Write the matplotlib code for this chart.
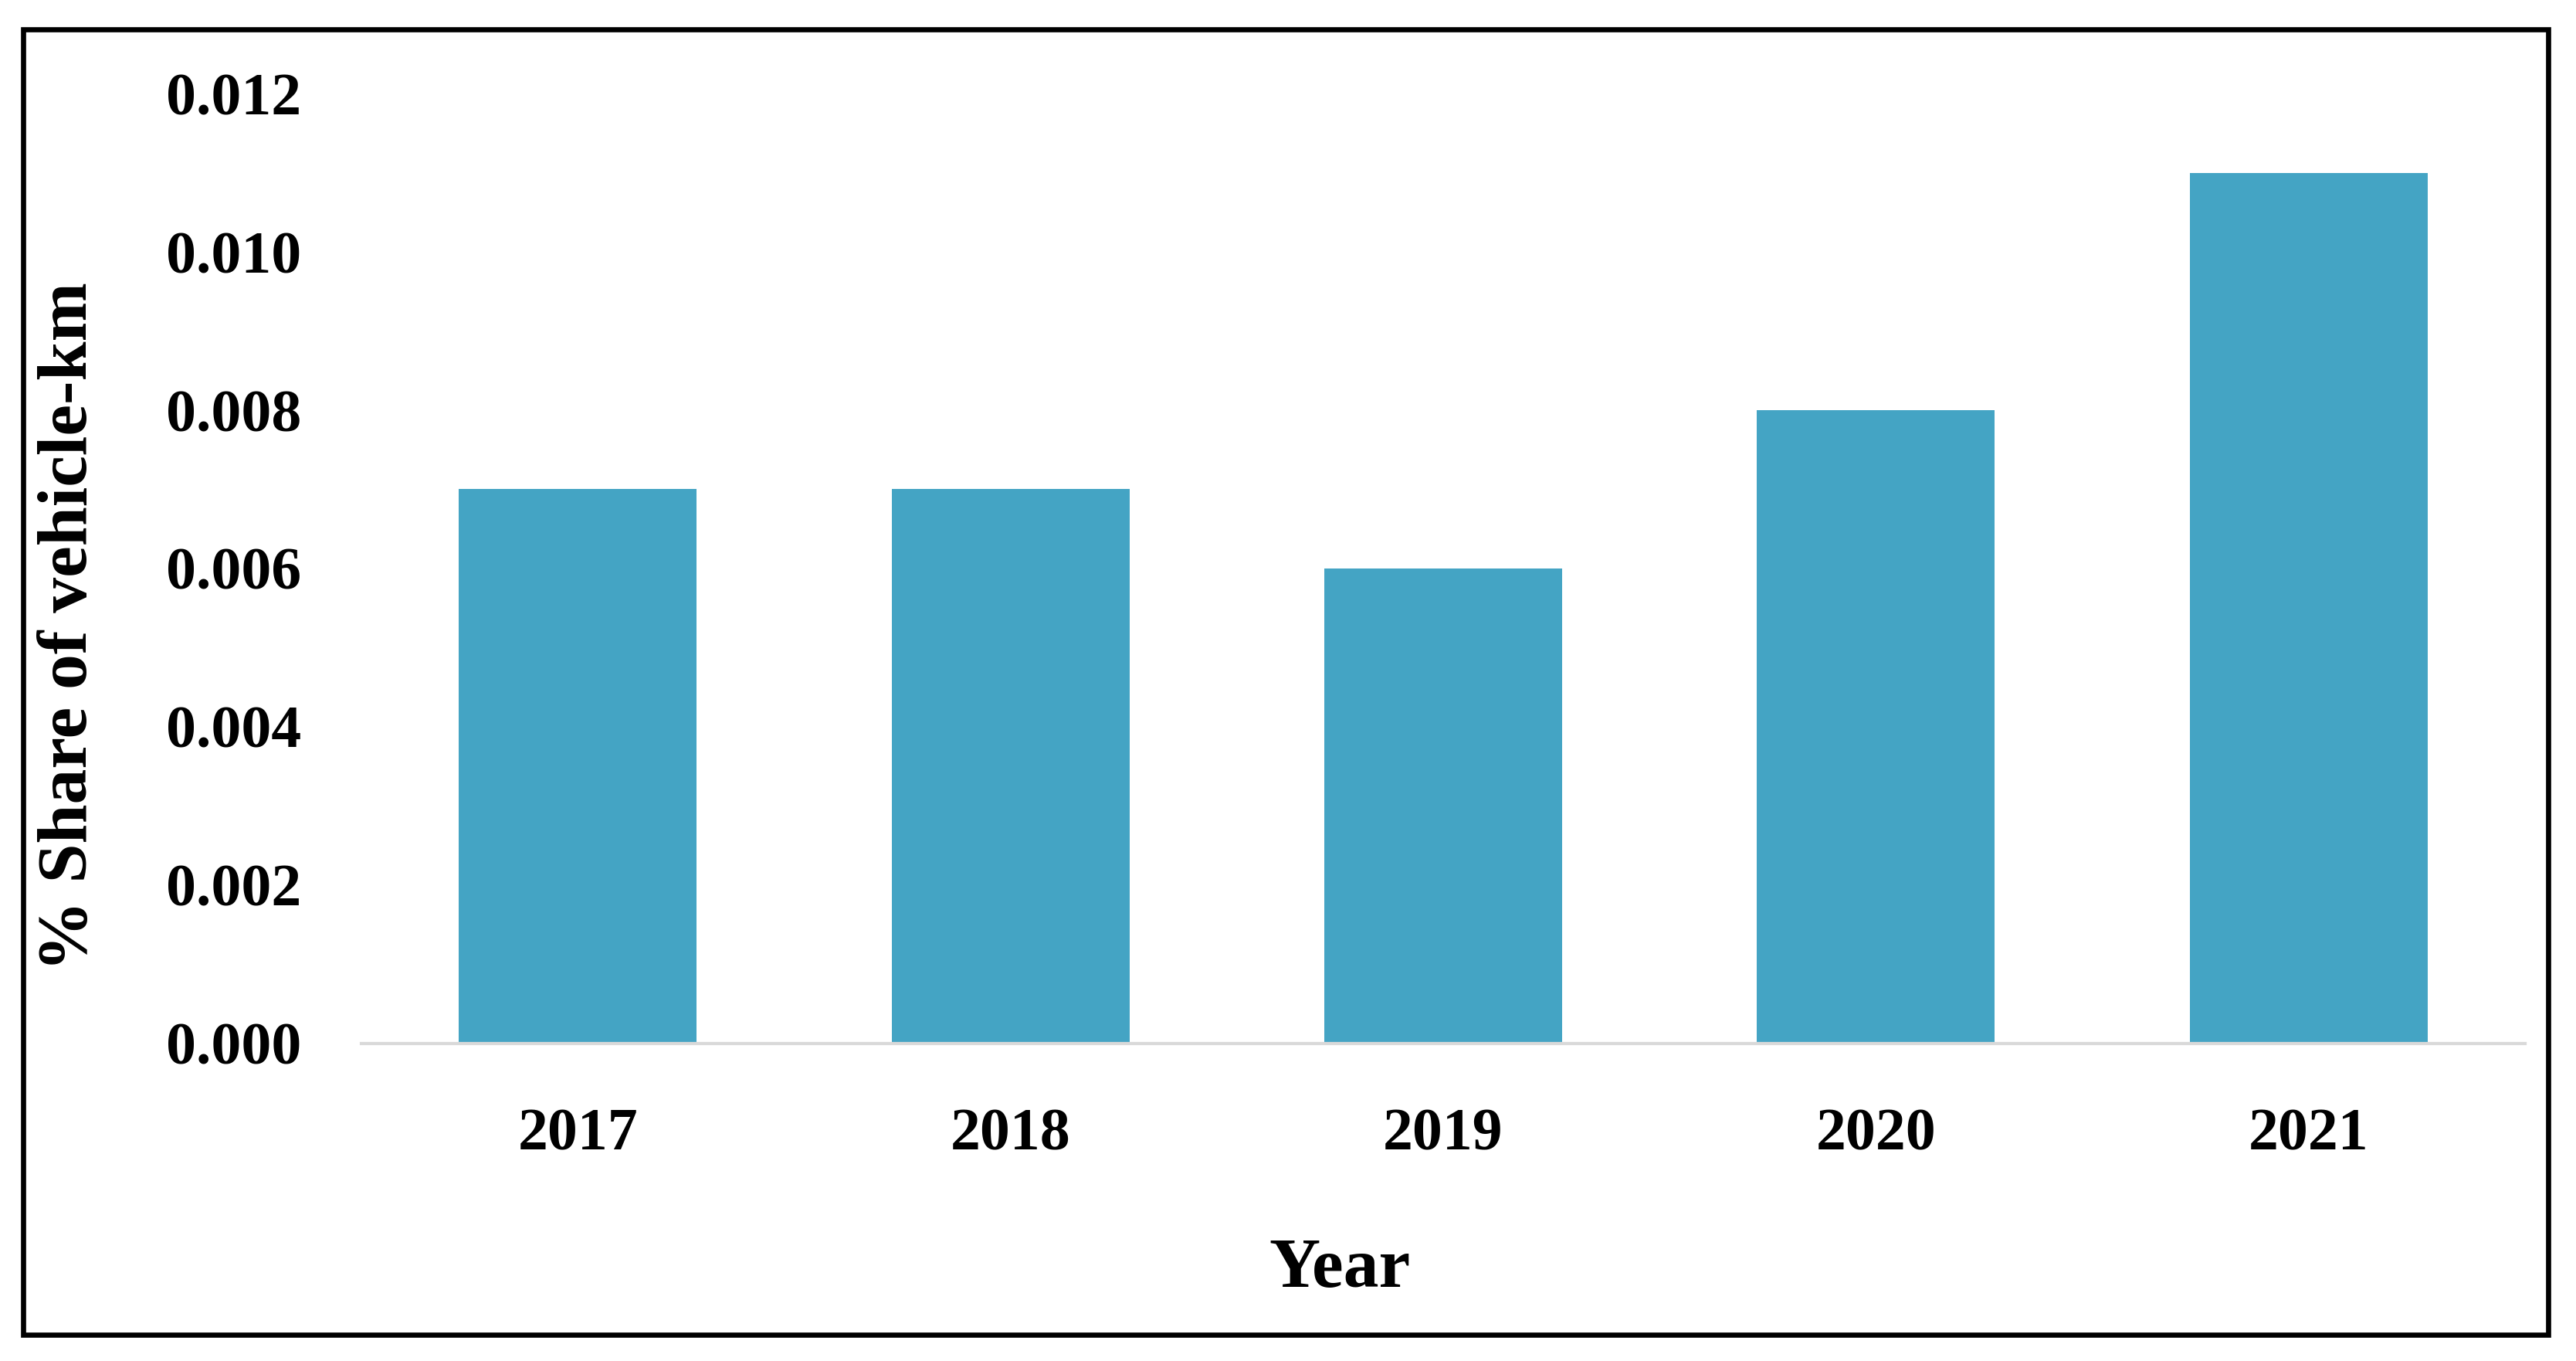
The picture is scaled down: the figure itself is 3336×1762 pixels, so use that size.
import matplotlib
matplotlib.use("Agg")
import matplotlib.pyplot as plt
from matplotlib.patches import Rectangle

# Data
years = ["2017", "2018", "2019", "2020", "2021"]
share = [0.007, 0.007, 0.006, 0.008, 0.011]
y_ticks = [0.000, 0.002, 0.004, 0.006, 0.008, 0.010, 0.012]

plt.rcParams['font.family'] = ['Liberation Serif', 'DejaVu Serif']
plt.rcParams['font.weight'] = 'bold'

fig = plt.figure(figsize=(16.68, 8.81), dpi=200)
ax = fig.add_axes([0.1403, 0.2333, 0.8399, 0.6980])

x = range(len(years))
ax.bar(x, share, width=0.55, color='#44A4C4', zorder=2)

ax.set_xlim(-0.5, len(years) - 0.5)
ax.set_ylim(0, 0.012)
ax.set_xticks(list(x))
ax.set_xticklabels(years)
ax.set_yticks(y_ticks)
ax.set_yticklabels([f"{v:.3f}" for v in y_ticks])
ax.tick_params(axis='both', length=0, labelsize=28)
ax.tick_params(axis='y', pad=28)
ax.tick_params(axis='x', pad=30)

for side in ['top', 'right', 'left']:
    ax.spines[side].set_visible(False)
ax.spines['bottom'].set_color('#D9D9D9')
ax.spines['bottom'].set_linewidth(1.5)

ax.set_xlabel('Year', fontsize=33, fontweight='bold')
ax.xaxis.set_label_coords(0.452, -0.205)
ax.set_ylabel('% Share of vehicle-km', fontsize=33, fontweight='bold')
ax.yaxis.set_label_coords(-0.1203, 0.439)

# Outer black frame
fig.patches.append(Rectangle((0.009, 0.0193), 0.9802, 0.9591, transform=fig.transFigure,
                             fill=False, edgecolor='black', linewidth=2.4))

fig.savefig('out.png', dpi=200, facecolor='white')
